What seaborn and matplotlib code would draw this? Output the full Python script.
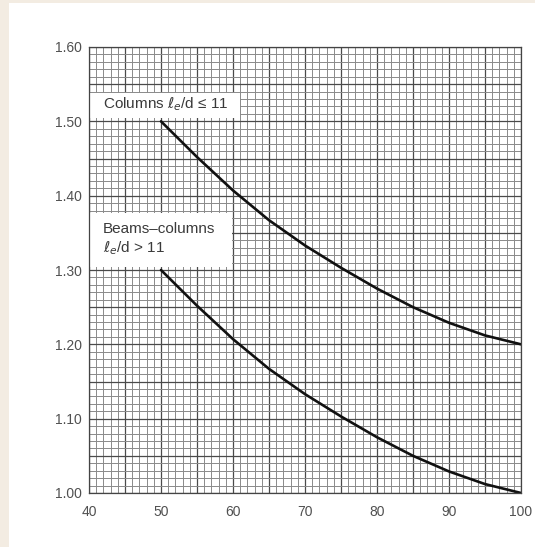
import numpy as np
import pandas as pd
import matplotlib
matplotlib.use("Agg")
import matplotlib.pyplot as plt
from matplotlib.patches import Rectangle
import seaborn as sns

# Data
slenderness = [50, 55, 60, 65, 70, 75, 80, 85, 90, 95, 100]
columns = [1.500, 1.452, 1.407, 1.367, 1.333, 1.303, 1.275, 1.250, 1.229, 1.212, 1.200]
beam_columns = [1.300, 1.252, 1.207, 1.167, 1.133, 1.103, 1.075, 1.050, 1.029, 1.012, 1.000]
x_ticks = [40, 50, 60, 70, 80, 90, 100]
y_ticks = [1.00, 1.10, 1.20, 1.30, 1.40, 1.50, 1.60]
y_tick_labels = ["1.00", "1.10", "1.20", "1.30", "1.40", "1.50", "1.60"]

df = pd.DataFrame({
    "x": slenderness * 2,
    "y": columns + beam_columns,
    "series": ["Columns"] * len(slenderness) + ["Beam-columns"] * len(slenderness),
})

sns.set_style("white")
plt.rcParams["font.family"] = ["Liberation Sans", "DejaVu Sans"]

fig = plt.figure(figsize=(5.35, 5.47), dpi=100)
fig.patch.set_facecolor("white")
# beige border strips
fig.patches.append(Rectangle((0, 0), 9 / 535, 1, transform=fig.transFigure,
                             facecolor="#f3ece2", edgecolor="none", zorder=0))
fig.patches.append(Rectangle((0, 1 - 3 / 547), 1, 3 / 547, transform=fig.transFigure,
                             facecolor="#f3ece2", edgecolor="none", zorder=0))

ax = fig.add_axes([89 / 535, 1 - 493 / 547, (521 - 89) / 535, (493 - 47) / 547])

# grid
for xv in np.arange(40, 101, 1):
    major = (xv % 5 == 0)
    ax.axvline(xv, color="#4a4a4a" if major else "#8a8a8a",
               lw=0.9 if major else 0.7, zorder=1)
for i in range(0, 61):
    yv = 1.0 + i * 0.01
    major = (i % 5 == 0)
    ax.axhline(yv, color="#4a4a4a" if major else "#8a8a8a",
               lw=0.9 if major else 0.7, zorder=1)

sns.lineplot(data=df, x="x", y="y", hue="series", units="series", estimator=None,
             palette={"Columns": "#111111", "Beam-columns": "#111111"},
             linewidth=1.9, legend=False, ax=ax, zorder=3)

ax.set_xlim(40, 100)
ax.set_ylim(1.0, 1.6)
ax.set_xticks(x_ticks)
ax.set_xticklabels([str(v) for v in x_ticks])
ax.set_yticks(y_ticks)
ax.set_yticklabels(y_tick_labels)
ax.tick_params(axis="both", length=0, labelsize=10, labelcolor="#505050")
ax.tick_params(axis="x", pad=8.5)
ax.tick_params(axis="y", pad=5)
ax.set_xlabel("")
ax.set_ylabel("")
for s in ax.spines.values():
    s.set_color("#444444")
    s.set_linewidth(0.9)
    s.set_zorder(6)

# white label boxes
ax.add_patch(Rectangle((40, 1.504), 21.0, 0.034, facecolor="white",
                       edgecolor="none", zorder=4))
ax.add_patch(Rectangle((40, 1.304), 19.9, 0.073, facecolor="white",
                       edgecolor="none", zorder=4))

ax.text(41.95, 1.523, r"Columns $\ell_e$/d ≤ 11", fontsize=11, color="#3a3a3a",
        va="center", ha="left", zorder=5)
ax.text(41.95, 1.341, "Beams–columns\n" + r"$\ell_e$/d > 11", fontsize=11, color="#3a3a3a",
        va="center", ha="left", zorder=5, linespacing=1.3)

fig.savefig("out.png", dpi=100)
